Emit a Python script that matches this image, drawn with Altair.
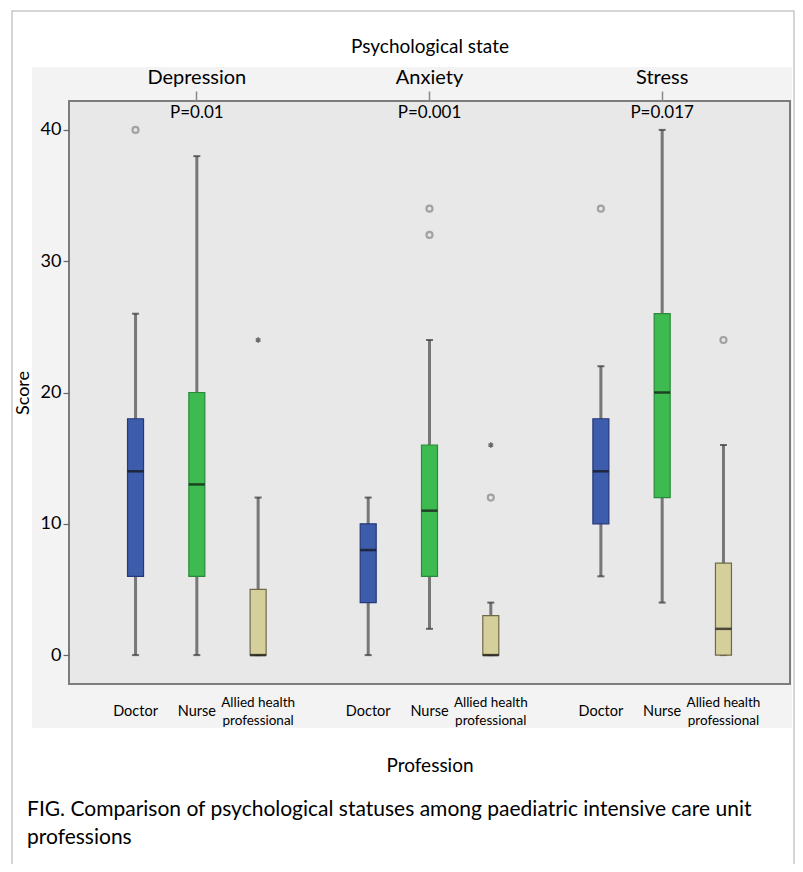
import altair as alt
import pandas as pd

# ---------------- data ----------------
states = ["Depression", "Anxiety", "Stress"]
professions = ["Doctor", "Nurse", "Allied health professional"]
prof_labels = ["Doctor", "Nurse", "Allied health\nprofessional"]
p_values = ["P=0.01", "P=0.001", "P=0.017"]

box_state = ["Depression"] * 3 + ["Anxiety"] * 3 + ["Stress"] * 3
box_prof = professions * 3
w_low = [0, 0, 0, 0, 2, 0, 6, 4, 0]
q1 = [6, 6, 0, 4, 6, 0, 10, 12, 0]
median = [14, 13, 0, 8, 11, 0, 14, 20, 2]
q3 = [18, 20, 5, 10, 16, 3, 18, 26, 7]
w_high = [26, 38, 12, 12, 24, 4, 22, 40, 16]

# outliers (circles) and extremes (stars)
out_state = ["Depression", "Anxiety", "Anxiety", "Anxiety", "Stress", "Stress"]
out_prof = ["Doctor", "Nurse", "Nurse", "Allied health professional", "Doctor",
            "Allied health professional"]
out_value = [40, 32, 34, 12, 34, 24]

ext_state = ["Depression", "Anxiety"]
ext_prof = ["Allied health professional", "Allied health professional"]
ext_value = [24, 16]

caption = ["FIG.  Comparison of psychological statuses among paediatric intensive care unit",
           "professions"]

fill_colors = ["#3d5cab", "#3dba50", "#d5cf9c"]
stroke_colors = ["#26397a", "#2a8a3a", "#6e6a48"]

# ---------------- tables ----------------
boxes = pd.DataFrame({"state": box_state, "profession": box_prof, "lo": w_low,
                      "q1": q1, "median": median, "q3": q3, "hi": w_high})
outl = pd.DataFrame({"state": out_state, "profession": out_prof, "value": out_value})
extr = pd.DataFrame({"state": ext_state, "profession": ext_prof, "value": ext_value})
pv = pd.DataFrame({"state": states, "p": p_values})
labs = pd.DataFrame({"state": [s for s in states for _ in professions],
                     "profession": professions * 3,
                     "label": prof_labels * 3,
                     "lines": [lab.count("\n") + 1 for lab in prof_labels] * 3})
one = pd.DataFrame({"k": [0]})
cap = pd.DataFrame({"k": [0]})

FONT = "Lato"
W, H = 721, 583

yscale = alt.Scale(domain=[-2.2, 42.2], nice=False, zero=False)
yaxis = alt.Axis(values=[0, 10, 20, 30, 40], title="Score", titleFontSize=18,
                 titleFontWeight="normal", titlePadding=8, titleColor="black",
                 labelFontSize=18, labelPadding=2, labelColor="black",
                 tickSize=6, tickColor="#666666", tickWidth=1.2,
                 domain=False, grid=False, zindex=1)

xscale = alt.Scale(domain=states, paddingInner=0, paddingOuter=0.0494)
xoff = alt.XOffset("profession:N",
                   scale=alt.Scale(domain=professions, paddingInner=0, paddingOuter=0.398))

top_axis = alt.Axis(orient="top", title="Psychological state", titleFontSize=19,
                    titleFontWeight="normal", titleColor="black", titlePadding=11,
                    labelFontSize=20, labelColor="black", labelPadding=4, labelAngle=0,
                    tickSize=10, tickColor="#888888", tickWidth=1.5, domain=False, zindex=1)
bottom_axis = alt.Axis(orient="bottom", labels=False, ticks=False, domain=False,
                       title="Profession", titleFontSize=19, titleFontWeight="normal",
                       titleColor="black", titlePadding=72, zindex=1)


def X(axis=None):
    return alt.X("state:N", scale=xscale, axis=axis)


def Y(field):
    return alt.Y(f"{field}:Q", scale=yscale, axis=yaxis)


color = alt.Color("profession:N", scale=alt.Scale(domain=professions, range=fill_colors),
                  legend=None)
stroke = alt.Stroke("profession:N", scale=alt.Scale(domain=professions, range=stroke_colors),
                    legend=None)

# ---------------- decorations ----------------
outer = alt.Chart(one).mark_rect(fill=None, stroke="#c8c8c8", strokeWidth=1.5).encode(
    x=alt.value(-57), x2=alt.value(725), y=alt.value(-90), y2=alt.value(790))
graybg = alt.Chart(one).mark_rect(fill="#f3f3f3", stroke=None).encode(
    x=alt.value(-37), x2=alt.value(723), y=alt.value(-34), y2=alt.value(627))
frame = alt.Chart(one).mark_rect(fill="#e8e8e8", stroke="#7c7c7c", strokeWidth=2).encode(
    x=alt.value(0), x2=alt.value(W), y=alt.value(0), y2=alt.value(H))

# ---------------- boxes ----------------
whisk = alt.Chart(boxes).mark_rule(color="#777777", strokeWidth=3).encode(
    x=X(top_axis), xOffset=xoff, y=Y("lo"), y2="hi")
cap_lo = alt.Chart(boxes).mark_tick(color="#333333", size=7, thickness=2).encode(
    x=X(), xOffset=xoff, y=Y("lo"))
cap_hi = alt.Chart(boxes).mark_tick(color="#333333", size=7, thickness=2).encode(
    x=X(), xOffset=xoff, y=Y("hi"))
box = alt.Chart(boxes).mark_bar(size=16, strokeWidth=1.2).encode(
    x=X(), xOffset=xoff, y=Y("q1"), y2="q3", color=color, stroke=stroke)
med = alt.Chart(boxes).mark_tick(color="#111111", size=16, thickness=2.5).encode(
    x=X(), xOffset=xoff, y=Y("median"))

circ = alt.Chart(outl).mark_point(shape="circle", filled=False, size=36, stroke="#858585",
                                  strokeWidth=2.2).encode(
    x=X(), xOffset=xoff, y=Y("value"))
star = alt.Chart(extr).mark_point(
    shape="M0,-1L0,1M-0.87,-0.5L0.87,0.5M-0.87,0.5L0.87,-0.5",
    filled=False, size=30, stroke="#333333", strokeWidth=1.6).encode(
    x=X(), xOffset=xoff, y=Y("value"))

ptext = alt.Chart(pv).mark_text(font=FONT, fontSize=17, color="black", baseline="middle").encode(
    x=X(), y=alt.value(12), text="p:N")

plabel1 = alt.Chart(labs).transform_filter(alt.datum.lines == 1).mark_text(
    font=FONT, fontSize=14.5, color="black", baseline="middle").encode(
    x=X(bottom_axis), xOffset=xoff, y=alt.value(H + 28), text="label:N")
plabel2 = alt.Chart(labs).transform_filter(alt.datum.lines == 2).mark_text(
    font=FONT, fontSize=13.5, color="black", baseline="middle",
    lineBreak="\n", lineHeight=18).encode(
    x=X(), xOffset=xoff, y=alt.value(H + 19), text="label:N")

captext = alt.Chart(cap).mark_text(font=FONT, fontSize=21, color="black", align="left",
                                   baseline="top", lineHeight=28,
                                   text=caption).encode(
    x=alt.value(-42), y=alt.value(698))

chart = alt.layer(
    outer, graybg, frame, whisk, cap_lo, cap_hi, box, med, circ, star, ptext,
    plabel1, plabel2, captext
).resolve_axis(x="independent").properties(
    width=W, height=H,
    autosize=alt.AutoSizeParams(type="none"),
    padding={"left": 61, "top": 93, "right": 5, "bottom": 180},
    background="white",
).configure_view(stroke=None).configure(font=FONT)

chart.save("out.html", embed_options={"renderer": "svg", "actions": False})
